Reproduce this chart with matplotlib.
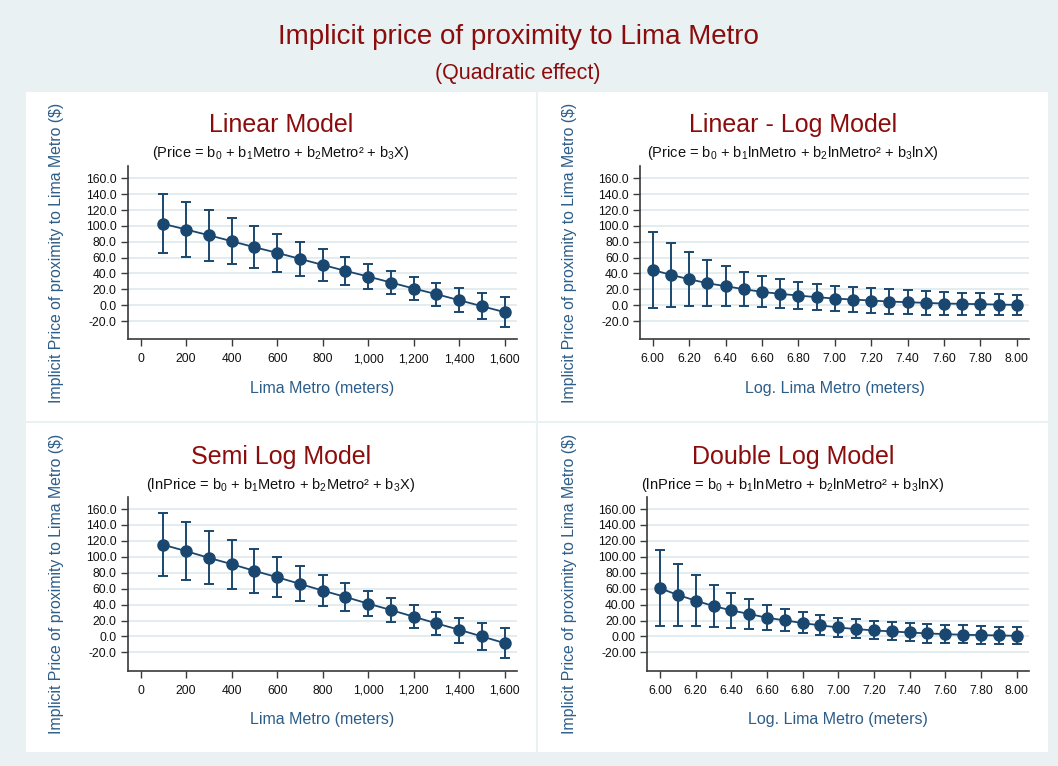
import matplotlib
matplotlib.use("Agg")
import matplotlib.pyplot as plt
from matplotlib.patches import Rectangle
from matplotlib.ticker import FuncFormatter
import numpy as np

plt.rcParams['font.family'] = ['Liberation Sans', 'DejaVu Sans']
plt.rcParams['mathtext.fontset'] = 'custom'
plt.rcParams['mathtext.rm'] = 'Liberation Sans'
plt.rcParams['mathtext.it'] = 'Liberation Sans'
plt.rcParams['mathtext.default'] = 'regular'

# ---- data ----
metro = [100, 200, 300, 400, 500, 600, 700, 800, 900, 1000, 1100, 1200, 1300, 1400, 1500, 1600]
ln_metro = [6.0, 6.1, 6.2, 6.3, 6.4, 6.5, 6.6, 6.7, 6.8, 6.9, 7.0,
            7.1, 7.2, 7.3, 7.4, 7.5, 7.6, 7.7, 7.8, 7.9, 8.0]

lin_mid = [102.5, 95.4, 88.2, 80.7, 73.1, 66.0, 58.4, 50.8, 43.3, 36.1, 28.6, 21.0, 13.9, 6.3, -1.3, -8.8]
lin_hi = [140.3, 130.3, 120.2, 110.1, 100.0, 89.9, 79.8, 70.6, 60.9, 52.1, 43.3, 35.3, 28.2, 21.4, 16.0, 10.1]
lin_lo = [65.5, 60.9, 55.9, 51.7, 46.6, 42.0, 37.0, 31.1, 26.0, 20.2, 13.9, 7.1, -0.4, -8.8, -17.6, -26.9]

linlog_mid = [44.5, 38.2, 32.8, 27.7, 24.0, 20.2, 16.8, 14.3, 12.2, 10.1, 8.4,
              7.1, 5.9, 4.6, 3.8, 2.9, 2.1, 1.7, 1.3, 0.8, 0.4]
linlog_hi = [92.9, 79.0, 66.8, 57.1, 49.2, 42.0, 37.0, 32.8, 29.4, 27.3, 24.8,
             23.1, 21.8, 20.2, 18.9, 17.6, 16.8, 16.0, 15.1, 14.3, 13.4]
linlog_lo = [-3.4, -1.7, -0.4, -0.4, -0.4, -1.3, -2.5, -3.8, -5.0, -5.9, -7.6,
             -8.8, -9.7, -10.5, -11.3, -11.8, -12.2, -12.2, -12.2, -12.2, -12.2]

semi_mid = [115.1, 107.1, 98.7, 90.8, 82.4, 74.4, 66.0, 57.6, 49.6, 41.2, 33.2, 24.8, 16.4, 8.4, 0.0, -8.4]
semi_hi = [154.6, 143.3, 131.9, 121.4, 110.1, 99.2, 88.2, 77.7, 67.6, 57.6, 48.3, 39.1, 30.7, 23.5, 16.8, 10.9]
semi_lo = [76.0, 71.0, 66.0, 60.1, 55.0, 49.6, 44.1, 37.8, 31.9, 25.2, 18.1, 10.5, 2.1, -7.6, -17.2, -27.3]

dbl_mid = [60.5, 52.1, 45.0, 38.2, 32.8, 28.2, 23.5, 20.2, 16.8, 13.9, 11.3,
           9.2, 7.6, 6.3, 5.0, 3.8, 2.9, 2.1, 1.7, 1.3, 0.8]
dbl_hi = [108.0, 91.6, 77.3, 65.1, 55.0, 47.1, 39.9, 34.5, 30.3, 26.5, 23.5,
          21.8, 19.7, 18.1, 16.8, 15.5, 14.7, 13.9, 13.0, 12.2, 11.3]
dbl_lo = [12.6, 12.6, 12.6, 11.8, 10.9, 9.2, 8.0, 6.3, 3.8, 2.1, -0.4,
          -1.7, -3.8, -5.0, -6.3, -7.6, -8.4, -8.8, -9.2, -9.7, -9.7]

y_ticks = [-20, 0, 20, 40, 60, 80, 100, 120, 140, 160]
metro_ticks = [0, 200, 400, 600, 800, 1000, 1200, 1400, 1600]
ln_ticks = [6.0, 6.2, 6.4, 6.6, 6.8, 7.0, 7.2, 7.4, 7.6, 7.8, 8.0]

main_title = "Implicit price of proximity to Lima Metro"
main_sub = "(Quadratic effect)"
ylab = "Implicit Price of proximity to Lima Metro ($)"

# ---- style ----
W, H = 1058, 766
BG = '#e9f1f3'
GRID = '#e0eaee'
NAVY = '#1a476f'
RED = '#8b0c0c'
AXT = '#2c5d89'


def fx(px):
    return px / W


def fy(py):
    return 1 - py / H


fig = plt.figure(figsize=(W / 100, H / 100), dpi=100, facecolor=BG)

# white panel backgrounds
for (x0, x1, y0, y1) in [(26, 536, 92, 421), (538, 1048, 92, 421),
                         (26, 536, 423, 752), (538, 1048, 423, 752)]:
    fig.patches.append(Rectangle((fx(x0), fy(y1)), fx(x1) - fx(x0), fy(y0) - fy(y1),
                                 transform=fig.transFigure, facecolor='white',
                                 edgecolor='none', zorder=0))

fig.text(fx(518), fy(37), main_title, color=RED, fontsize=20, ha='center', va='center')
fig.text(fx(518), fy(73), main_sub, color=RED, fontsize=15.5, ha='center', va='center')

panels = [
    dict(box=(127.7, 517, 166, 339.3), pcx=281, ty=125, x=metro, mid=lin_mid, lo=lin_lo, hi=lin_hi,
         title="Linear Model",
         formula="(Price = b$_0$ + b$_1$Metro + b$_2$Metro² + b$_3$X)",
         xlabel="Lima Metro (meters)", xlim=(-57, 1654), xticks=metro_ticks, log=False, ydec=1,
         ylx=56.7),
    dict(box=(640, 1029.3, 166, 339.3), pcx=793, ty=125, x=ln_metro, mid=linlog_mid, lo=linlog_lo,
         hi=linlog_hi, title="Linear - Log Model",
         formula="(Price = b$_0$ + b$_1$lnMetro + b$_2$lnMetro² + b$_3$lnX)",
         xlabel="Log. Lima Metro (meters)", xlim=(5.930, 8.069), xticks=ln_ticks, log=True, ydec=1,
         ylx=569.7),
    dict(box=(127.7, 517, 496.7, 670.7), pcx=281, ty=456.7, x=metro, mid=semi_mid, lo=semi_lo,
         hi=semi_hi, title="Semi Log Model",
         formula="(lnPrice = b$_0$ + b$_1$Metro + b$_2$Metro² + b$_3$X)",
         xlabel="Lima Metro (meters)", xlim=(-57, 1654), xticks=metro_ticks, log=False, ydec=1,
         ylx=56.7),
    dict(box=(647, 1029.3, 496.7, 670.7), pcx=793, ty=456.7, x=ln_metro, mid=dbl_mid, lo=dbl_lo,
         hi=dbl_hi, title="Double Log Model",
         formula="(lnPrice = b$_0$ + b$_1$lnMetro + b$_2$lnMetro² + b$_3$lnX)",
         xlabel="Log. Lima Metro (meters)", xlim=(5.927, 8.071), xticks=ln_ticks, log=True, ydec=2,
         ylx=569.7),
]

for p in panels:
    l, r, t, b = p['box']
    ax = fig.add_axes([fx(l), fy(b), fx(r) - fx(l), fy(t) - fy(b)])
    ax.set_facecolor('white')
    ax.set_zorder(2)

    mid = np.array(p['mid'])
    err = [mid - np.array(p['lo']), np.array(p['hi']) - mid]
    ax.errorbar(p['x'], mid, yerr=err, fmt='none', ecolor=NAVY, elinewidth=1.4,
                capsize=3.6, capthick=1.4, zorder=3)
    ax.plot(p['x'], mid, '-', color=NAVY, lw=1.3, zorder=4)
    ax.plot(p['x'], mid, 'o', color=NAVY, ms=8, zorder=5)

    ax.set_xlim(*p['xlim'])
    ax.set_ylim(-43, 175.5)
    ax.set_yticks(y_ticks)
    ax.set_xticks(p['xticks'])
    d = p['ydec']
    ax.yaxis.set_major_formatter(FuncFormatter(lambda v, pos, d=d: f"{v:.{d}f}"))
    if p['log']:
        ax.xaxis.set_major_formatter(FuncFormatter(lambda v, pos: f"{v:.2f}"))
    else:
        ax.xaxis.set_major_formatter(FuncFormatter(lambda v, pos: f"{v:,.0f}"))
    ax.grid(axis='y', color=GRID, lw=1.3, zorder=0)
    ax.set_axisbelow(True)
    for s in ['top', 'right']:
        ax.spines[s].set_visible(False)
    for s in ['left', 'bottom']:
        ax.spines[s].set_color('#3a3a3a')
        ax.spines[s].set_linewidth(1.2)
    ax.tick_params(axis='both', colors='#3a3a3a', labelcolor='#111111', labelsize=8.7,
                   length=5, width=1.0)
    ax.tick_params(axis='y', pad=3)
    ax.tick_params(axis='x', pad=5)

    fig.text(fx(p['pcx']), fy(p['ty']), p['title'], color=RED, fontsize=18,
             ha='center', va='center')
    fig.text(fx(p['pcx']), fy(p['ty'] + 28), p['formula'], color='#111111', fontsize=10.5,
             ha='center', va='center')
    fig.text(fx((l + r) / 2), fy(b + 49), p['xlabel'], color=AXT, fontsize=11.5,
             ha='center', va='center')
    panel_mid = 253 if t < 300 else 584
    fig.text(fx(p['ylx']), fy(panel_mid), ylab, color=AXT, fontsize=11.4, rotation=90,
             ha='center', va='center')

fig.savefig("out.png", dpi=100, facecolor=BG)
